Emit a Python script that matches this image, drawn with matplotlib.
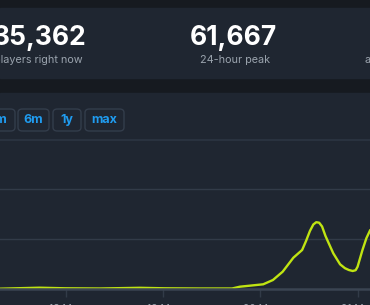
import matplotlib.pyplot as plt
import matplotlib.patches as patches

# Datos (días de marzo, jugadores)
days = [17.32, 17.73, 18.0, 18.35, 18.76, 19.02, 19.38, 19.71, 19.79, 19.89,
        20.03, 20.13, 20.23, 20.34, 20.43, 20.47, 20.51, 20.545, 20.575, 20.605,
        20.635, 20.67, 20.75, 20.82, 20.87, 20.91, 20.95, 20.98, 21.0, 21.05,
        21.09, 21.13]
players = [300, 1300, 700, 500, 1200, 700, 500, 500, 2300, 3300,
           4700, 9000, 17300, 31300, 39000, 48000, 58000, 64500, 66800, 66300,
           62500, 53000, 35700, 24700, 20800, 19000, 18000, 18800, 22300, 39000,
           50700, 59000]

tick_days = [18, 19, 20, 21]
tick_labels = ['18 Mar', '19 Mar', '20 Mar', '21 Mar']

stat_values = ['35,362', '61,667']
stat_labels = ['players right now', '24-hour peak']
buttons = ['1m', '6m', '1y', 'max']

W, H = 370, 305
bg_dark = '#161a20'
panel = '#1f2631'
grid_c = '#323b48'
line_c = '#c0e412'

fig = plt.figure(figsize=(W / 100, H / 100), dpi=100, facecolor=bg_dark)


def fx(x):
    return x / W


def fy(y):
    return 1 - y / H


# Paneles de fondo
fig.patches.append(patches.Rectangle((0, fy(78)), 1, (78 - 8) / H,
                                     transform=fig.transFigure, color=panel, zorder=-2))
fig.patches.append(patches.Rectangle((0, 0), 1, fy(93),
                                     transform=fig.transFigure, color=panel, zorder=-2))

# Estadísticas
fig.text(fx(87), fy(45), stat_values[0], color='white', fontsize=19, fontweight='bold',
         family='Inter', ha='right', va='baseline')
fig.text(fx(83), fy(60), stat_labels[0], color='#9aa3ad', fontsize=7.8,
         family='Inter', ha='right', va='center')
fig.text(fx(233), fy(45), stat_values[1], color='white', fontsize=19, fontweight='bold',
         family='Inter', ha='center', va='baseline')
fig.text(fx(235), fy(60), stat_labels[1], color='#9aa3ad', fontsize=7.8,
         family='Inter', ha='center', va='center')
fig.text(fx(365), fy(60), 'all-time peak', color='#9aa3ad', fontsize=7.8,
         family='Inter', ha='left', va='center')

# Botones de rango
btn_x = [(-17, 15), (18, 49), (53, 81), (85, 124)]
for (x0, x1), lab in zip(btn_x, buttons):
    box = patches.FancyBboxPatch((fx(x0), fy(131)), fx(x1 - x0), (131 - 109) / H,
                                 boxstyle='round,pad=0,rounding_size=0.012',
                                 transform=fig.transFigure, facecolor=panel,
                                 edgecolor='#333d4b', linewidth=1.0, zorder=-1)
    fig.patches.append(box)
    fig.text(fx((x0 + x1) / 2), fy(120), lab, color='#1f9cf0', fontsize=9,
             fontweight='bold', family='Inter', ha='center', va='center')

# Línea separadora
fig.lines.append(plt.Line2D([0, 1], [fy(140), fy(140)], transform=fig.transFigure,
                            color='#2c3542', linewidth=1.2))

# Gráfico
ax = fig.add_axes([0, fy(289), 1, (289 - 140) / H])
ax.set_zorder(2)
ax.set_facecolor('none')
ax.plot(days, players, color=line_c, linewidth=1.7, solid_joinstyle='round',
        solid_capstyle='round')
ax.set_xlim(17.325, 21.1275)
ax.set_ylim(0, 149000)
ax.set_yticks([50000, 100000])
ax.yaxis.grid(True, color=grid_c, linewidth=1.0)
ax.tick_params(axis='y', left=False, labelleft=False)
ax.set_xticks(tick_days)
ax.set_xticklabels(tick_labels, color='#9aa3ad', fontsize=7.5, family='Inter')
ax.tick_params(axis='x', color=grid_c, length=6, width=1, pad=5)
for s in ['top', 'right', 'left']:
    ax.spines[s].set_visible(False)
ax.spines['bottom'].set_color('#3a4452')
ax.spines['bottom'].set_linewidth(1.8)
ax.set_axisbelow(True)

fig.savefig('out.png', dpi=100, facecolor=bg_dark)
